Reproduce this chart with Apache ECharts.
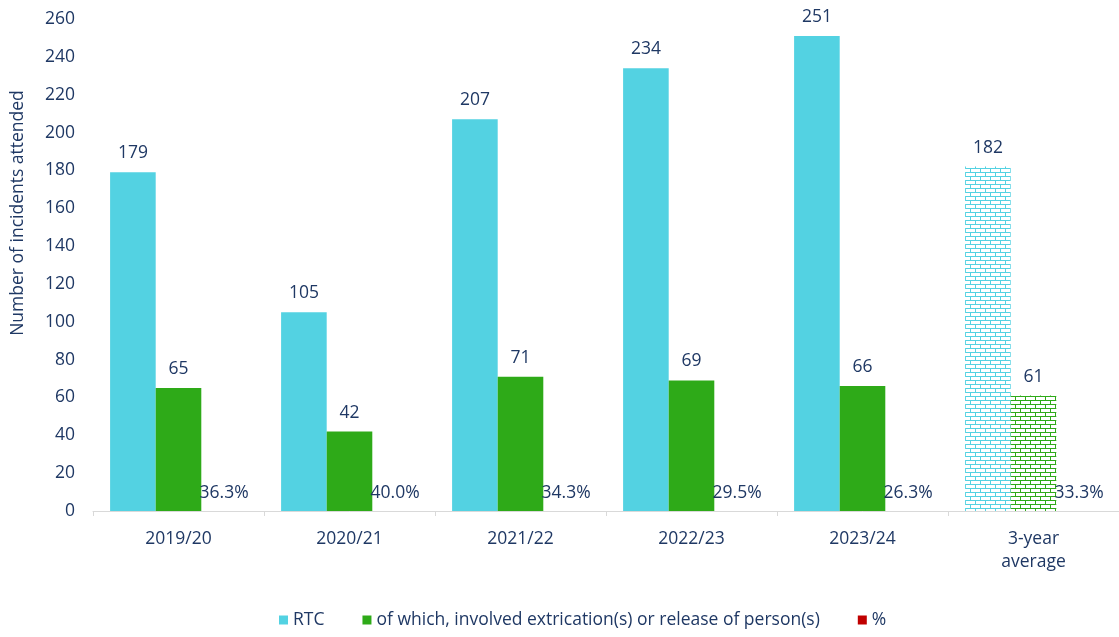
<!DOCTYPE html>
<html>
<head>
<meta charset="utf-8">
<script src="https://cdn.jsdelivr.net/npm/echarts@6/dist/echarts.min.js"></script>
<style>
  html, body { margin: 0; padding: 0; background: #fff; }
  #chart { width: 1119px; height: 637px; }
</style>
</head>
<body>
<div id="chart"></div>
<script>
const categories = ["2019/20", "2020/21", "2021/22", "2022/23", "2023/24", "3-year\naverage"];
const rtc = [179, 105, 207, 234, 251, 182];
const extrication = [65, 42, 71, 69, 66, 61];
const percent = [36.3, 40.0, 34.3, 29.5, 26.3, 33.3];

const textColor = "#1f3864";
const cyan = "#53d2e2";
const green = "#2eaa18";
const red = "#c00000";

// brick pattern used for the averaged column
function brick(color) {
  const c = document.createElement("canvas");
  c.width = 10;
  c.height = 8;
  const ctx = c.getContext("2d");
  ctx.fillStyle = "#fff";
  ctx.fillRect(0, 0, 10, 8);
  ctx.strokeStyle = color;
  ctx.lineWidth = 1;
  ctx.beginPath();
  ctx.moveTo(0, 0.5); ctx.lineTo(10, 0.5);
  ctx.moveTo(0, 4.5); ctx.lineTo(10, 4.5);
  ctx.moveTo(0.5, 0); ctx.lineTo(0.5, 4);
  ctx.moveTo(5.5, 4); ctx.lineTo(5.5, 8);
  ctx.stroke();
  return { image: c, repeat: "repeat" };
}

const last = categories.length - 1;
function withPattern(values, color) {
  return values.map((v, i) => (i === last ? { value: v, itemStyle: { color: brick(color) } } : v));
}

const font = "'Open Sans', sans-serif";
const fs = 17.5;
const label = {
  show: true,
  position: "top",
  distance: 10,
  color: textColor,
  fontSize: fs,
  fontFamily: font,
};

const legendNames = ["RTC", "of which, involved extrication(s) or release of person(s)", "%"];

const chart = echarts.init(document.getElementById("chart"));
chart.setOption({
  animation: false,
  textStyle: { fontFamily: font },
  // the plot runs slightly past the right edge, as in the source image
  grid: { left: 93, right: -4, top: 19, bottom: 126 },
  graphic: [
    {
      type: "text",
      x: 18,
      y: 213,
      rotation: Math.PI / 2,
      style: {
        text: "Number of incidents attended",
        fill: textColor,
        font: `${fs}px ${font}`,
        align: "center",
        verticalAlign: "middle",
      },
    },
  ],
  legend: {
    left: 274,
    bottom: 3,
    icon: "rect",
    itemWidth: 9,
    itemHeight: 9,
    itemGap: 38,
    textStyle: { color: textColor, fontSize: fs, fontFamily: font },
    data: [
      { name: legendNames[0] },
      { name: legendNames[1] },
      { name: legendNames[2], itemStyle: { color: red } },
    ],
  },
  xAxis: {
    type: "category",
    data: categories,
    axisLine: { lineStyle: { color: "#d9d9d9", width: 1 } },
    axisTick: { show: true, alignWithLabel: false, length: 5, lineStyle: { color: "#d9d9d9" } },
    axisLabel: { color: textColor, fontSize: fs, margin: 17, lineHeight: 23, fontFamily: font },
  },
  yAxis: {
    type: "value",
    min: 0,
    max: 260,
    interval: 20,
    axisLine: { show: false },
    axisTick: { show: false },
    splitLine: { show: false },
    axisLabel: { color: textColor, fontSize: fs, margin: 18, fontFamily: font },
  },
  series: [
    {
      name: legendNames[0],
      type: "bar",
      data: withPattern(rtc, cyan),
      itemStyle: { color: cyan },
      barGap: "0%",
      barCategoryGap: "20%",
      label,
    },
    {
      name: legendNames[1],
      type: "bar",
      data: withPattern(extrication, green),
      itemStyle: { color: green },
      label,
    },
    {
      // share of RTCs, plotted on the count axis so the bar is too thin to see
      name: legendNames[2],
      type: "bar",
      data: percent.map((p) => p / 100),
      itemStyle: { color: "rgba(192,0,0,0)" },
      label: {
        ...label,
        distance: 8,
        formatter: (p) => (p.value * 100).toFixed(1) + "%",
      },
    },
  ],
});
</script>
</body>
</html>
